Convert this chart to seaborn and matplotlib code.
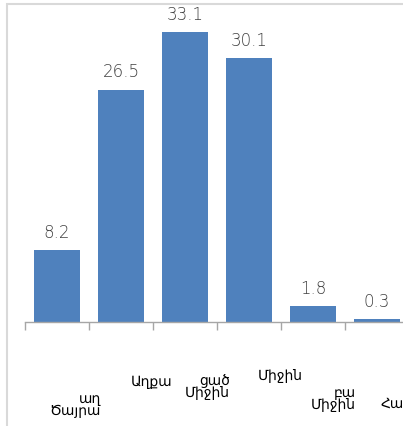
import matplotlib
matplotlib.use("Agg")
import matplotlib.pyplot as plt
from matplotlib.patches import Rectangle
import seaborn as sns
import pandas as pd
import numpy as np

categories = ["Ծայրահեղ աղքատ", "Աղքատ", "Միջինից ցածր", "Միջին", "Միջինից բարձր", "Հարուստ"]
values = [8.2, 26.5, 33.1, 30.1, 1.8, 0.3]
# visible (clipped) fragments of the tick labels, as they appear in the chart
label_text = ["աղ\nԾայրա", "Աղքա", "ցած\nՄիջին", "Միջին", "բա\nՄիջին", "Հա"]

sns.set_style("white")
plt.rcParams['font.family'] = ['DejaVu Sans']

W, H = 403, 426
fig = plt.figure(figsize=(W / 100, H / 100), dpi=100)
ax = fig.add_axes([25 / W, 1 - 322 / H, 384 / W, 319 / H])

df = pd.DataFrame({"cat": categories, "val": values})
sns.barplot(data=df, x="cat", y="val", color="#4F81BD", width=0.72, ax=ax,
            saturation=1, edgecolor="none")

ax.set_xlim(-0.5, 5.5)
ax.set_ylim(0, 36.4)
ax.set_xlabel("")
ax.set_ylabel("")
ax.set_yticks([])
for s in ["left", "right", "top"]:
    ax.spines[s].set_visible(False)
ax.spines["bottom"].set_color("#A6A6A6")
ax.spines["bottom"].set_linewidth(1)

ax.set_xticks(np.arange(len(categories)))
ax.set_xticklabels([""] * len(categories))
ax.tick_params(axis="x", which="major", length=0)
ax.set_xticks(np.arange(len(categories) + 1) - 0.5, minor=True)
ax.tick_params(axis="x", which="minor", length=6, color="#A6A6A6", width=1, direction="out", bottom=True)

ax.bar_label(ax.containers[0], labels=[f"{v:.1f}" for v in values], padding=6,
             fontsize=12, color="#404040", family="DejaVu Sans", fontweight="light")

# label placements: (dx px, dy px, ha) per category
placements = [(44, -83, "right"), (52, -60, "right"), (45, -65, "right"),
              (54, -54, "right"), (43, -77, "right"), (4, -82, "left")]
for i, (txt, (dx, dy, ha)) in enumerate(zip(label_text, placements)):
    ax.annotate(txt, xy=(i, 0), xycoords="data", xytext=(dx, dy),
                textcoords="offset pixels", ha=ha, va="center", multialignment="right",
                fontsize=10, color="#000000", annotation_clip=False, linespacing=0.75)

# outer chart frame (light grey, left and top)
fig.patches.append(Rectangle((7.5 / W, -0.5), 2.0, 0.5 + 1 - 3.5 / H,
                             transform=fig.transFigure, fill=False,
                             edgecolor="#D9D9D9", linewidth=1.5, zorder=0))

fig.savefig("out.png", dpi=100)
